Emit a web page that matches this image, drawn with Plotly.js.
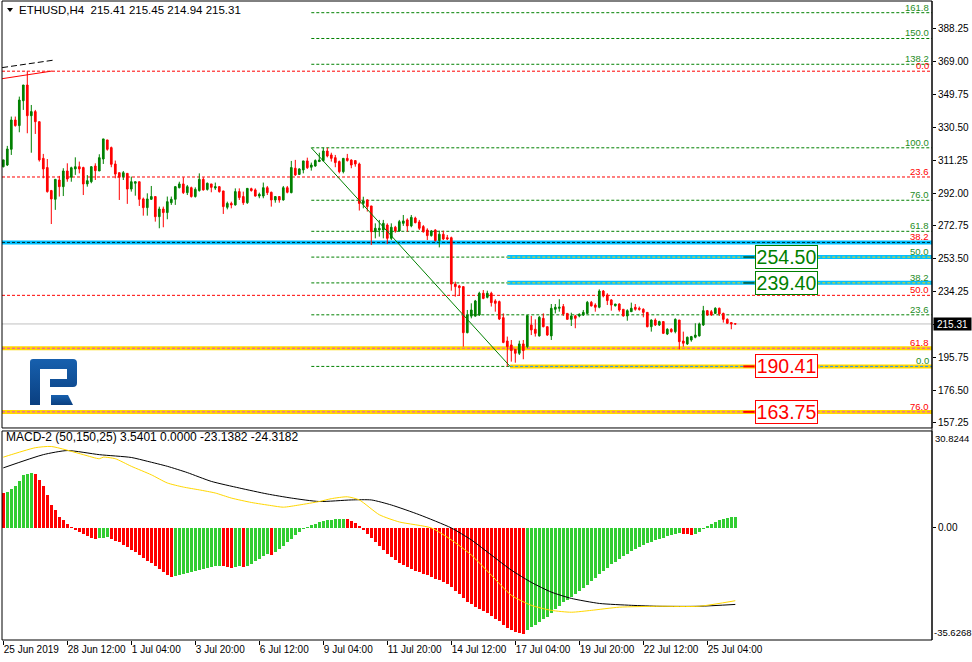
<!DOCTYPE html>
<html>
<head>
<meta charset="utf-8">
<script src="https://cdn.plot.ly/plotly-3.0.1.min.js"></script>
<style>
html,body{margin:0;padding:0;background:#fff;}
#wrap{position:relative;width:972px;height:662px;}
#chart{width:972px;height:662px;}
#overlay{position:absolute;left:0;top:0;pointer-events:none;}
</style>
</head>
<body>
<div id="wrap">
<div id="chart"></div>
<svg id="overlay" width="972" height="662">
  <polygon points="7,8 13,8 10,12" fill="#000"/>
  <defs><linearGradient id="lg" x1="0" y1="0" x2="0" y2="1"><stop offset="0" stop-color="#1760AE"/><stop offset="1" stop-color="#0A3F80"/></linearGradient></defs>
  <path d="M30,362 Q30,359 33,359 H73 Q77,359 77,363 V383 Q77,387 73,387 H50 V379 H67 V369 H40 V405 H30 Z" fill="url(#lg)"/>
  <polygon points="51,395 68,395 73,405 51,405" fill="url(#lg)"/>
</svg>
</div>
<script>
// ---------------- DATA ----------------
const tickBars   = [0,16,32,48,64,80,96,112,128,144,160,176];
const tickLabels = ["25 Jun 2019","28 Jun 12:00","1 Jul 04:00","3 Jul 20:00","6 Jul 12:00","9 Jul 04:00","11 Jul 20:00","14 Jul 12:00","17 Jul 04:00","19 Jul 20:00","22 Jul 12:00","25 Jul 04:00"];

const open = [307.5,308.5,317.7,334.9,331.6,346.2,355.4,337.4,339.8,333.9,312.4,307.0,293.5,288.4,299.7,295.8,305.0,301.3,306.2,307.5,
307.0,297.4,298.7,307.9,305.0,312.0,323.2,318.7,309.1,304.0,301.7,303.6,294.4,297.8,298.7,288.6,283.5,288.4,290.0,278.2,
282.7,280.6,286.4,288.4,295.2,297.4,292.3,295.2,290.0,293.5,300.1,294.2,297.4,295.0,295.8,293.3,283.7,286.0,285.1,292.9,
290.0,286.4,294.6,293.9,290.3,290.3,295.2,292.5,288.0,290.0,288.0,295.2,292.3,306.6,303.0,305.6,310.9,307.2,307.9,310.5,
311.1,316.7,314.4,312.8,310.5,304.6,312.4,311.4,311.1,309.1,286.0,288.0,284.5,269.4,270.4,270.4,273.3,265.5,272.0,269.8,
274.3,276.3,272.8,277.4,275.1,272.4,270.4,267.1,270.4,264.2,267.9,265.9,265.9,238.7,237.6,237.2,210.2,219.9,219.9,220.6,
233.3,230.9,233.3,228.8,228.4,219.0,205.3,203.0,200.4,198.1,203.6,202.0,214.7,212.2,208.3,218.6,213.7,208.3,223.9,224.5,
225.5,221.5,218.0,220.0,220.0,220.6,221.5,228.0,226.4,225.1,234.6,232.3,229.4,226.0,227.0,223.9,220.0,222.5,225.1,224.5,
223.9,222.1,213.7,217.6,214.7,216.7,209.4,212.2,210.8,217.6,205.3,203.6,205.9,207.5,208.3,214.7,223.1,222.5,221.5,224.5,
221.5,218.0,216.1,215.41];
const high = [311.5,319.7,336.9,336.9,348.6,355.4,363.5,343.7,340.8,333.9,315.0,312.0,293.9,300.3,302.1,306.6,309.5,307.5,313.0,310.5,
307.5,302.6,307.9,309.5,314.8,323.8,323.2,319.3,311.1,304.0,305.0,303.6,301.7,298.7,298.7,289.4,291.9,296.2,290.0,284.1,
284.1,290.0,290.0,296.2,298.7,301.3,296.8,295.8,295.4,303.6,301.3,298.2,297.4,298.2,296.2,293.3,287.0,287.0,294.8,294.8,
292.9,294.8,295.2,294.8,292.3,298.2,296.2,292.9,290.3,290.3,296.2,296.2,310.9,311.5,306.6,310.9,312.8,309.9,311.8,315.7,
318.6,318.6,315.7,314.4,311.1,312.4,315.0,311.8,311.1,309.9,289.9,288.4,284.5,274.3,276.3,276.3,274.3,274.3,272.8,276.3,
279.2,277.2,279.2,278.2,276.3,273.3,271.4,270.4,270.8,270.0,270.0,267.5,266.5,240.1,238.2,237.2,223.5,227.4,229.4,234.2,
235.2,234.8,234.2,229.8,229.0,221.5,207.9,205.9,200.4,205.5,205.9,220.2,220.0,218.0,220.0,221.5,213.7,227.0,227.0,229.8,
227.0,221.5,221.9,220.6,221.5,223.5,228.8,228.8,227.4,235.6,235.2,233.3,229.8,227.0,227.4,223.9,223.9,227.8,227.0,225.5,
224.5,222.1,218.0,218.6,217.2,216.7,212.8,212.8,218.6,217.6,210.8,207.9,208.3,215.7,216.1,225.9,223.5,223.5,225.1,224.9,
221.9,218.6,216.1,215.45];
const low = [307.1,307.9,314.4,331.0,327.7,340.8,327.1,315.7,326.7,310.5,300.7,292.3,273.9,282.2,290.0,290.3,298.7,298.7,302.7,303.6,
290.9,295.8,297.8,299.7,305.0,309.1,316.9,307.2,300.7,288.0,299.7,285.7,292.9,290.5,284.5,278.8,278.8,288.0,275.3,271.4,
272.0,276.7,285.1,285.1,294.8,291.5,290.9,289.4,289.4,292.9,293.5,293.5,292.5,293.9,292.3,279.8,282.5,283.1,284.7,288.0,
285.1,285.7,292.9,290.0,289.0,289.0,290.9,284.1,286.4,286.4,287.6,291.9,291.9,302.1,302.7,303.6,306.2,305.2,307.5,310.5,
310.5,313.0,310.5,307.2,303.6,303.6,310.5,306.6,307.5,281.8,283.1,281.2,261.6,265.5,266.5,265.5,262.2,264.5,268.8,269.4,
272.8,269.4,272.0,274.3,270.4,268.8,264.5,266.5,263.6,260.2,264.5,264.5,234.8,231.3,231.7,202.0,209.8,218.6,219.6,220.0,
229.8,230.3,225.5,222.5,217.6,204.0,190.41,193.2,192.6,197.1,194.6,201.0,208.8,207.9,207.9,213.3,208.3,205.9,221.5,222.5,
220.0,218.0,214.1,212.8,219.2,220.0,221.2,225.5,222.5,224.5,230.9,226.4,223.1,225.5,222.5,219.6,217.2,222.5,223.1,223.1,
219.2,213.3,210.8,214.1,214.1,209.4,208.8,210.2,209.8,200.4,202.0,203.0,204.9,206.9,207.9,214.1,220.0,220.0,221.2,220.0,
216.1,215.3,212.2,214.94];
const close = [311.5,317.9,334.9,331.6,346.6,355.4,337.4,339.8,333.9,311.5,306.2,292.9,288.6,300.1,295.8,305.0,300.3,306.9,307.5,306.2,
297.4,299.3,307.5,305.2,312.8,323.8,317.7,308.9,303.2,301.3,304.0,294.4,298.7,298.7,288.4,283.5,288.6,290.0,278.2,282.7,
280.6,287.0,288.4,295.8,297.4,292.3,295.8,290.0,294.2,300.1,293.9,297.8,295.4,295.8,292.9,284.1,286.0,285.1,292.9,289.4,
286.4,294.8,293.5,290.3,291.3,295.2,292.3,288.0,290.0,288.0,295.2,292.5,307.0,302.7,306.2,310.9,306.9,308.5,311.1,311.4,
316.7,313.8,312.4,309.9,304.6,312.4,311.1,308.5,309.1,286.0,287.4,284.1,269.4,271.4,271.4,274.3,265.5,272.0,269.8,275.3,
275.7,272.8,277.8,274.7,271.4,269.4,267.1,269.8,264.2,267.9,265.1,265.1,238.7,237.2,236.6,210.2,220.6,223.5,228.8,233.3,
230.3,233.3,227.8,227.4,218.2,204.5,202.0,199.7,198.1,203.6,199.7,220.2,211.8,209.8,219.2,213.7,208.8,224.5,225.1,225.1,
221.2,218.0,220.0,218.6,221.0,222.1,228.0,225.9,225.1,234.6,231.7,229.0,226.4,227.0,223.5,220.0,223.1,224.5,223.9,223.9,
222.1,213.7,217.6,214.7,216.7,209.8,212.2,210.8,218.0,204.9,204.0,207.5,207.9,208.8,215.3,223.1,220.6,220.6,224.5,221.2,
218.0,215.7,215.3,215.31];

const lastPrice = 215.31;
const priceTicks = [157.25,176.50,195.75,215.00,234.25,253.50,272.75,292.00,311.25,330.50,349.75,369.00,388.25];

// MACD-2 (50,150,25)
const macdHist = [11.0,11.3,12.3,13.2,14.9,16.8,17.1,17.4,17.1,15.2,13.3,10.4,7.2,5.6,3.4,2.4,1.1,0.25,
-0.6,-1.3,-2.0,-2.6,-3.1,-3.5,-3.3,-3.1,-3.0,
-3.4,-4.0,-4.6,-5.3,-6.1,-6.9,-7.8,-8.6,-9.5,-10.4,-11.3,-12.2,-13.1,-14.0,-14.9,-15.6,
-15.3,-15.0,-14.6,-14.2,-13.9,-13.6,-13.3,-13.0,-12.7,-12.5,-12.2,-12.0,
-12.2,-12.5,-12.7,-12.5,-12.2,-12.4,-12.0,-11.4,-10.6,-9.8,-9.0,-8.4,-8.6,
-7.8,-6.8,-5.7,-4.6,-3.4,-2.2,-1.2,-0.4,0.3,0.9,1.4,1.8,2.1,2.4,2.6,2.8,2.9,3.0,
2.8,2.3,1.6,0.6,-0.6,-1.9,-3.3,-4.6,-5.8,-7.0,-8.2,-9.2,-10.2,-11.0,-11.8,-12.5,-13.1,-13.6,-14.1,-14.6,-15.1,-15.6,-16.1,-16.6,-17.1,-17.7,
-18.7,-19.9,-21.0,-22.4,-23.4,-24.2,-25.0,-25.8,-26.5,-27.2,-28.0,-28.8,-29.7,-30.8,-31.8,-32.4,-33.0,-33.4,-33.6,
-32.5,-31.6,-30.8,-29.8,-29.0,-28.3,-27.0,-25.8,-24.7,-23.7,-22.8,-21.9,-21.0,-20.1,-19.2,-18.0,-17.0,-16.0,-14.7,-13.6,
-12.6,-11.6,-10.7,-9.8,-9.0,-8.2,-7.4,-6.7,-6.0,-5.4,-4.9,-4.4,-3.9,-3.5,-3.1,-2.7,-2.3,-1.9,-1.6,
-1.8,-2.0,-2.2,-2.0,-1.2,-0.3,0.6,1.4,2.0,2.5,2.9,3.2,3.4,3.54];
const blackBars = [0,10,16,24,32,36,41,46,52,59,66,72,79,87,92,97,104,112,117,122,127,132,137,142,149,157,164,174,183];
const blackVals = [19.1,23.3,24.6,23.3,22.4,21.2,19.6,17.6,14.8,12.7,10.8,9.5,8.4,8.9,8.9,7.3,4.2,0,-3.8,-8.6,-13.4,-17.3,-20.4,-22.4,-24.0,-24.6,-24.9,-24.9,-24.32];
const yellowBars = [0,2,8,12,20,24,25,28,32,37,41,45,49,53,57,62,67,70,74,79,82,86,89,94,99,107,112,117,122,127,132,137,142,147,154,164,174,183];
const yellowVals = [22.5,23.3,25.5,25.9,23.3,22.0,22.5,22.0,19.6,16.9,14.3,13.0,12.1,11.1,9.5,8.1,7.1,6.6,7.3,8.4,9.3,9.9,8.9,4.2,1.9,0,-3.8,-8.6,-15.0,-21.4,-24.6,-26.2,-26.8,-26.2,-25.2,-24.9,-24.9,-23.14];
const macdMin = -35.6268, macdMax = 30.8244;
const macdHeader = "MACD-2 (50,150,25) 3.5401 0.0000 -23.1382 -24.3182";
const header = "ETHUSD,H4  215.41 215.45 214.94 215.31";

// Fibonacci objects
const greenFibLevels = [0,23.6,38.2,50,61.8,76,100,138.2,150,161.8];
const greenFib100 = 318.59, greenFib0 = 190.41, greenFibStart = 77, greenFibEnd = 126.7;
const redFibLevels = [0,23.6,38.2,50,61.8,76];
const redFib0 = 363.5, redFib100 = 100.67;
const boxValues = [254.50, 239.40, 190.41, 163.75];
const channelRed = [[-0.3,359.1],[12.2,363.6]];
const channelBlack = [[-0.3,365.6],[12.9,370.1]];

// ---------------- BUILD ----------------
const FONT = "Liberation Sans, Arial, sans-serif";
const GREEN = "#008000", RED = "#FF0000";
const XR = [-0.325, 232.175];
const idx = open.map((_, i) => i);
const PX = px => (px - 2) / 930, PY = py => (640 - py) / 639;

const shapes = [];
const annotations = [];
const hl = (y, x0, color, width, dash) => shapes.push({type:'line', xref:'x', yref:'y', x0:x0, x1:XR[1], y0:y, y1:y, line:{color:color, width:width, dash:dash}, layer:'below'});

hl(lastPrice, XR[0], "#C0C0C0", 1, "solid");

const redPrice = p => redFib0 - p/100*(redFib0 - redFib100);
redFibLevels.forEach(p => hl(redPrice(p), XR[0], RED, 1, "3px,2px"));
const greenPrice = p => greenFib0 + p/100*(greenFib100 - greenFib0);
greenFibLevels.forEach(p => hl(greenPrice(p), greenFibStart, GREEN, 1, "3px,2px"));

const CYAN = "#00BFFF", GOLD = "#FFD700";
hl(redPrice(38.2), XR[0], CYAN, 4, "solid"); hl(redPrice(38.2), XR[0], "#003030", 1, "3px,2px");
hl(boxValues[0], 126, CYAN, 4, "solid"); hl(boxValues[0], 126, GOLD, 1, "3px,2px");
hl(boxValues[1], 126, CYAN, 4, "solid"); hl(boxValues[1], 126, GOLD, 1, "3px,2px");
hl(redPrice(61.8), XR[0], GOLD, 4, "solid"); hl(redPrice(61.8), XR[0], "#E040E0", 1, "3px,2px");
hl(boxValues[2], greenFibEnd, GOLD, 4, "solid"); hl(boxValues[2], greenFibEnd, "#1E90FF", 1, "3px,2px");
hl(boxValues[3], XR[0], GOLD, 4, "solid"); hl(boxValues[3], XR[0], "#E040E0", 1, "3px,2px");

shapes.push({type:'line', xref:'x', yref:'y', x0:greenFibStart, y0:greenFib100, x1:greenFibEnd, y1:greenFib0, line:{color:GREEN, width:1}});
shapes.push({type:'line', xref:'x', yref:'y', x0:channelRed[0][0], y0:channelRed[0][1], x1:channelRed[1][0], y1:channelRed[1][1], line:{color:RED, width:1}});
shapes.push({type:'line', xref:'x', yref:'y', x0:channelBlack[0][0], y0:channelBlack[0][1], x1:channelBlack[1][0], y1:channelBlack[1][1], line:{color:"#000", width:1, dash:"6px,3px"}});

boxValues.forEach((v, k) => {
  const c = k < 2 ? GREEN : RED;
  shapes.push({type:'line', xref:'x', yref:'y', x0:185.0, x1:187.8, y0:v, y1:v, line:{color:k<2?"#006A5A":RED, width:2}});
  annotations.push({xref:'x', yref:'y', x:187.8, y:v, xanchor:'left', yanchor:'middle', showarrow:false,
    text:v.toFixed(2), font:{family:FONT, size:19.5, color:c}, bgcolor:"#fff", bordercolor:c, borderwidth:1, borderpad:0, width:61, height:22});
});

redFibLevels.forEach(p => annotations.push({xref:'x', yref:'y', x:XR[1], y:redPrice(p), xanchor:'right', yanchor:'bottom', xshift:-1, yshift:-2, showarrow:false, text:p.toFixed(1), font:{family:FONT, size:9.5, color:RED}}));
greenFibLevels.forEach(p => annotations.push({xref:'x', yref:'y', x:XR[1], y:greenPrice(p), xanchor:'right', yanchor:'bottom', xshift:-1, yshift:-2, showarrow:false, text:p.toFixed(1), font:{family:FONT, size:9.5, color:"#1E8C1E"}}));

shapes.push({type:'rect', xref:'x domain', yref:'y domain', x0:0, x1:1, y0:0, y1:1, line:{color:"#000", width:1}});
shapes.push({type:'rect', xref:'x2 domain', yref:'y2 domain', x0:0, x1:1, y0:0, y1:1, line:{color:"#000", width:1}});
shapes.push({type:'line', xref:'paper', yref:'paper', x0:1, x1:1, y0:0, y1:1, line:{color:"#000", width:1}});

annotations.push({xref:'paper', yref:'paper', x:PX(17), y:PY(10), xanchor:'left', yanchor:'middle', showarrow:false, text:header, font:{family:FONT, size:11.5, color:"#000"}});
annotations.push({xref:'paper', yref:'paper', x:PX(4), y:PY(437), xanchor:'left', yanchor:'middle', showarrow:false, text:macdHeader, font:{family:FONT, size:12, color:"#000"}});
annotations.push({xref:'paper', yref:'y', x:1, y:lastPrice, xanchor:'left', yanchor:'middle', xshift:1, showarrow:false, text:lastPrice.toFixed(2), font:{family:FONT, size:10, color:"#fff"}, bgcolor:"#000", borderpad:0, width:37, height:12});
annotations.push({xref:'paper', yref:'y2', x:1, y:macdMax, xanchor:'left', yanchor:'top', xshift:1, showarrow:false, text:macdMax.toFixed(4), font:{family:FONT, size:9.5, color:"#000"}});
annotations.push({xref:'paper', yref:'y2', x:1, y:macdMin, xanchor:'left', yanchor:'bottom', xshift:0, showarrow:false, text:macdMin.toFixed(4), font:{family:FONT, size:9.5, color:"#000"}});

const histColors = macdHist.map((v, i) => (i > 0 && v > macdHist[i-1]) ? "#32CD32" : "#FF0000");

const traces = [
  {type:'candlestick', x:idx, open:open, high:high, low:low, close:close, xaxis:'x', yaxis:'y',
   increasing:{line:{color:GREEN, width:1}, fillcolor:GREEN}, decreasing:{line:{color:RED, width:1}, fillcolor:RED},
   whiskerwidth:0, hoverinfo:'skip', showlegend:false},
  {type:'bar', x:idx, y:macdHist, xaxis:'x2', yaxis:'y2', width:0.75, marker:{color:histColors, line:{width:0}}, hoverinfo:'skip', showlegend:false},
  {type:'scatter', mode:'lines', x:blackBars, y:blackVals, xaxis:'x2', yaxis:'y2', line:{color:"#000", width:1, shape:'spline', smoothing:0.6}, hoverinfo:'skip', showlegend:false},
  {type:'scatter', mode:'lines', x:yellowBars, y:yellowVals, xaxis:'x2', yaxis:'y2', line:{color:GOLD, width:1, shape:'spline', smoothing:0.6}, hoverinfo:'skip', showlegend:false}
];

const layout = {
  width:972, height:662, margin:{l:2, r:40, t:1, b:22}, paper_bgcolor:"#fff", plot_bgcolor:"#fff",
  font:{family:FONT, size:10, color:"#000"}, showlegend:false, boxgap:0.4,
  xaxis:{domain:[0,1], anchor:'y', range:XR, showticklabels:false, ticks:'', showgrid:false, zeroline:false, showline:false, rangeslider:{visible:false}, fixedrange:true},
  yaxis:{domain:[0.3318,1], side:'right', range:[154.31,404.66], tickvals:priceTicks, ticktext:priceTicks.map(v=>v.toFixed(2)), ticks:'outside', ticklen:3, tickcolor:"#000", showgrid:false, zeroline:false, showline:false, tickfont:{family:FONT, size:10}},
  xaxis2:{domain:[0,1], anchor:'y2', range:XR, matches:'x', tickvals:tickBars, ticktext:tickLabels, tickangle:0, ticks:'outside', ticklen:4, tickcolor:"#000", ticklabelposition:'outside right', showgrid:false, zeroline:false, showline:false, tickfont:{family:FONT, size:10}},
  yaxis2:{domain:[0,0.3271], side:'right', range:[macdMin, macdMax], tickvals:[0], ticktext:["0.00"], ticks:'outside', ticklen:3, tickcolor:"#000", showgrid:false, zeroline:false, showline:false, tickfont:{family:FONT, size:10}},
  shapes:shapes, annotations:annotations, bargap:0
};

Plotly.newPlot('chart', traces, layout, {staticPlot:true, displayModeBar:false});
</script>
</body>
</html>
